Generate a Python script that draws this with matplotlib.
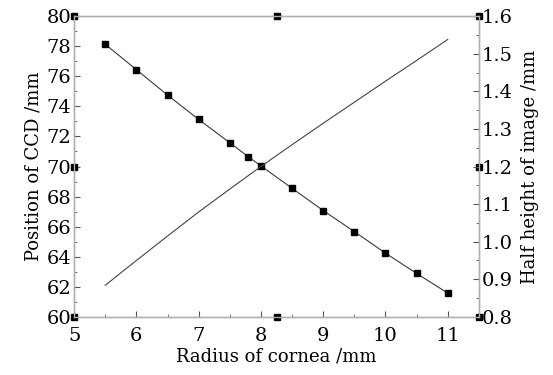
import matplotlib.pyplot as plt

# radius of cornea (mm)
radius_ccd = [5.5, 6.0, 6.5, 7.0, 7.5, 7.8, 8.0, 8.5, 9.0, 9.5, 10.0, 10.5, 11.0]
ccd_position = [78.13, 76.44, 74.75, 73.13, 71.58, 70.64, 70.04, 68.55, 67.07, 65.67, 64.24, 62.89, 61.58]

radius_img = [5.5, 6.0, 6.5, 7.0, 7.5, 8.0, 8.5, 9.0, 9.5, 10.0, 10.5, 11.0]
half_height = [0.884, 0.950, 1.015, 1.079, 1.140, 1.200, 1.258, 1.315, 1.371, 1.427, 1.482, 1.538]

x_ticks = [5, 6, 7, 8, 9, 10, 11]
left_ticks = [60, 62, 64, 66, 68, 70, 72, 74, 76, 78, 80]
right_ticks = [0.8, 0.9, 1.0, 1.1, 1.2, 1.3, 1.4, 1.5, 1.6]

plt.rcParams['font.family'] = ['DejaVu Serif']

fig = plt.figure(figsize=(5.53, 3.75), dpi=100)
ax = fig.add_axes([0.134, 0.155, 0.732, 0.802])
ax2 = ax.twinx()

ax.plot(radius_ccd, ccd_position, color='#3a3a3a', lw=0.8,
        marker='s', ms=5, mfc='black', mec='black')
ax2.plot(radius_img, half_height, color='#444444', lw=0.8)

ax.set_xlim(5, 11.5)
ax.set_ylim(60, 80)
ax2.set_ylim(0.8, 1.6)

ax.set_xticks(x_ticks)
ax.set_xticks([x + 0.5 for x in x_ticks], minor=True)
ax.set_yticks(left_ticks)
ax.set_yticks([v + 1 for v in left_ticks[:-1]], minor=True)
ax2.set_yticks(right_ticks)
ax2.set_yticklabels(['%.1f' % v for v in right_ticks])
ax2.set_yticks([v + 0.05 for v in right_ticks[:-1]], minor=True)

for a in (ax, ax2):
    for s in a.spines.values():
        s.set_color('#b0b0b0')
        s.set_linewidth(1.0)
    a.tick_params(which='both', direction='in', color='#555555', labelsize=14, pad=2)
    a.tick_params(which='major', length=4)
    a.tick_params(which='minor', length=2.5)
ax.tick_params(axis='x', pad=7)

ax.set_xlabel('Radius of cornea /mm', fontsize=13, labelpad=2)
ax.set_ylabel('Position of CCD /mm', fontsize=13, labelpad=3)
ax2.set_ylabel('Half height of image /mm', fontsize=13, labelpad=6)

# Origin-style selection handles around the frame
for hx, hy in [(0, 1), (0.5, 1), (1, 1), (0, 0.5), (1, 0.5), (0, 0), (0.5, 0), (1, 0)]:
    ax.plot(hx, hy, 's', ms=5, color='black', transform=ax.transAxes, clip_on=False, zorder=5)

fig.savefig('out.png', dpi=100)
